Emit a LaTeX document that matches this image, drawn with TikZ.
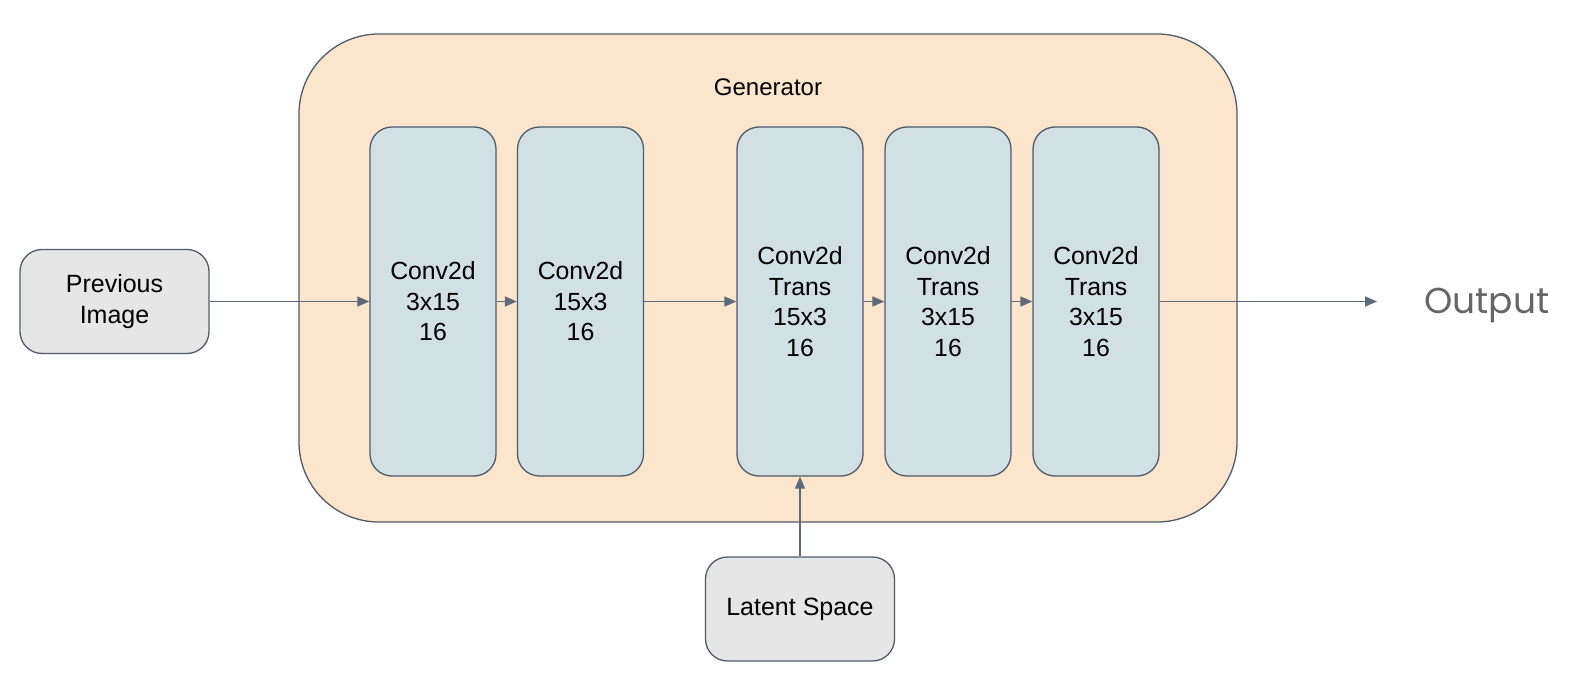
\documentclass[tikz,border=0pt]{standalone}
\usepackage{fontspec}
\setmainfont{Liberation Sans}
\newfontfamily\outfont{Poppins}
\usetikzlibrary{arrows.meta}
\definecolor{genfill}{HTML}{FCE5CD}
\definecolor{convfill}{HTML}{D0E0E3}
\definecolor{iofill}{HTML}{E6E6E6}
\definecolor{bordc}{HTML}{4F5B6B}
\definecolor{arrc}{HTML}{5C6A7C}
\definecolor{outc}{HTML}{666666}
\tikzset{
  genbox/.style={draw=bordc, fill=genfill, line width=1.3pt, rounded corners=80pt, minimum width=938pt, minimum height=488pt, inner sep=0pt},
  convbox/.style={draw=bordc, fill=convfill, line width=1.3pt, rounded corners=22pt, minimum width=126pt, minimum height=349pt, inner sep=0pt, align=center, font=\fontsize{24.8}{30.5}\selectfont},
  iobox/.style={draw=bordc, fill=iofill, line width=1.3pt, rounded corners=22pt, minimum width=189pt, minimum height=104pt, inner sep=0pt, align=center, font=\fontsize{25}{30.5}\selectfont},
  arr/.style={draw=arrc, line width=1.6pt, -{Triangle[length=12pt,width=10pt]}},
  lbl/.style={font=\fontsize{24}{28}\selectfont, inner sep=0pt}
}
\begin{document}
\begin{tikzpicture}[x=1pt,y=-1pt]
\useasboundingbox (0,0) rectangle (1580,682);
\node[genbox] (gen) at (768,278) {};
\node[lbl] (genlbl) at (768,87) {Generator};
\node[convbox] (c1) at (433,301.5) {Conv2d\\3x15\\16};
\node[convbox] (c2) at (580.5,301.5) {Conv2d\\15x3\\16};
\node[convbox] (c3) at (800,301.5) {Conv2d\\Trans\\15x3\\16};
\node[convbox] (c4) at (948,301.5) {Conv2d\\Trans\\3x15\\16};
\node[convbox] (c5) at (1096,301.5) {Conv2d\\Trans\\3x15\\16};
\node[iobox] (prev) at (114.5,301.5) {Previous\\Image};
\node[iobox] (lat) at (800,609) {Latent Space};
\coordinate (outend) at (1377,301.5);
\node[font=\outfont\fontsize{36}{40}\selectfont, text=outc, inner sep=0pt] (out) at (1487,305) {Output};
\draw[arr] (prev.east) -- (c1.west);
\draw[arr] (c1.east) -- (c2.west);
\draw[arr] (c2.east) -- (c3.west);
\draw[arr] (c3.east) -- (c4.west);
\draw[arr] (c4.east) -- (c5.west);
\draw[arr] (c5.east) -- (outend);
\draw[arr] (lat.north) -- (c3.south);
\end{tikzpicture}
\end{document}
